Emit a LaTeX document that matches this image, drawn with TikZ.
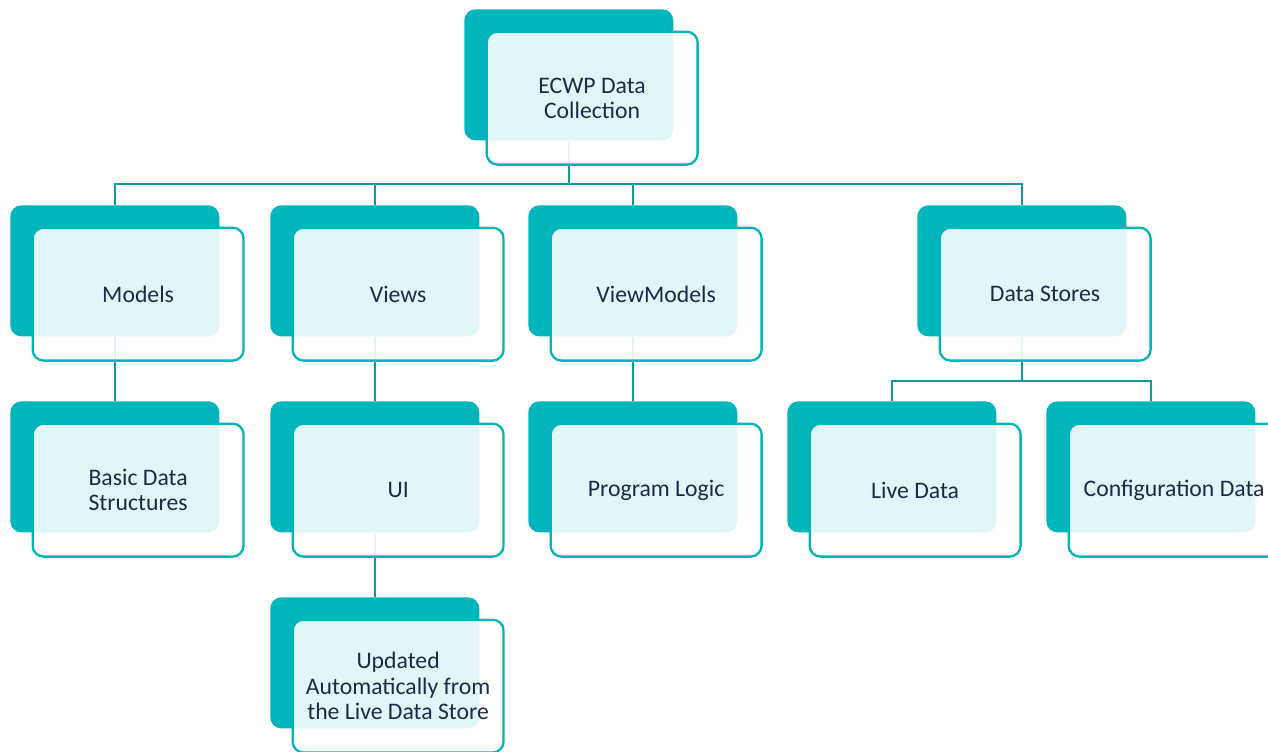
\documentclass[tikz,border=0pt]{standalone}
\usepackage{fontspec}
\setmainfont{Carlito}
\definecolor{myteal}{RGB}{0,182,187}
\definecolor{mylinkteal}{RGB}{16,152,158}
\definecolor{mynavy}{RGB}{27,42,74}
\pgfdeclarelayer{background}
\pgfsetlayers{background,main}
\usetikzlibrary{positioning,calc}
\tikzset{>=latex}

\begin{document}
\begin{tikzpicture}[x=0.02cm, y=-0.02cm,
    back/.style = {fill=myteal, rounded corners=0.22cm, minimum width=4.18cm, minimum height=2.62cm, anchor=north west, inner sep=0mm},
    front/.style = {draw=myteal, line width=1.3pt, fill=white, fill opacity=0.89, text opacity=1, rounded corners=0.22cm, minimum width=4.22cm, minimum height=2.66cm, anchor=north west, align=center, inner sep=0mm, font=\fontsize{13.5}{14.4}\selectfont, text=mynavy},
    link/.style = {draw=mylinkteal, line width=1.2pt}]
    \clip (0,0) rectangle (1268,751);
    % teal boxes behind
    \foreach \nm/\x/\y in {top/464/9, mod/10/205, view/270/205, vm/528/205, ds/917/205,
                           bds/10/401, ui/270/401, pl/528/401, live/787/401, conf/1046/401, upd/270/597}
        \node[back] (\nm B) at (\x,\y) {};
    % light boxes in front
    \foreach \nm/\txt in {top/{ECWP Data\\Collection}, mod/Models, view/Views, vm/ViewModels, ds/Data Stores,
                          bds/{Basic Data\\Structures}, ui/UI, pl/Program Logic, live/Live Data,
                          conf/Configuration Data, upd/{Updated\\Automatically from\\the Live Data Store}}
        \node[front] (\nm) at ([shift={(21.5,21.5)}]\nm B.north west) {\txt};
    % connectors
    \begin{pgfonlayer}{background}
        \foreach \c in {modB,viewB,vmB,dsB}
            \draw[link] (topB.south) -- ++(0,43) -| (\c.north);
        \draw[link] (modB.south) -- (bdsB.north);
        \draw[link] (viewB.south) -- (uiB.north);
        \draw[link] (uiB.south) -- (updB.north);
        \draw[link] (vmB.south) -- (plB.north);
        \foreach \c in {liveB,confB}
            \draw[link] (dsB.south) -- ++(0,44) -| (\c.north);
    \end{pgfonlayer}
\end{tikzpicture}
\end{document}
